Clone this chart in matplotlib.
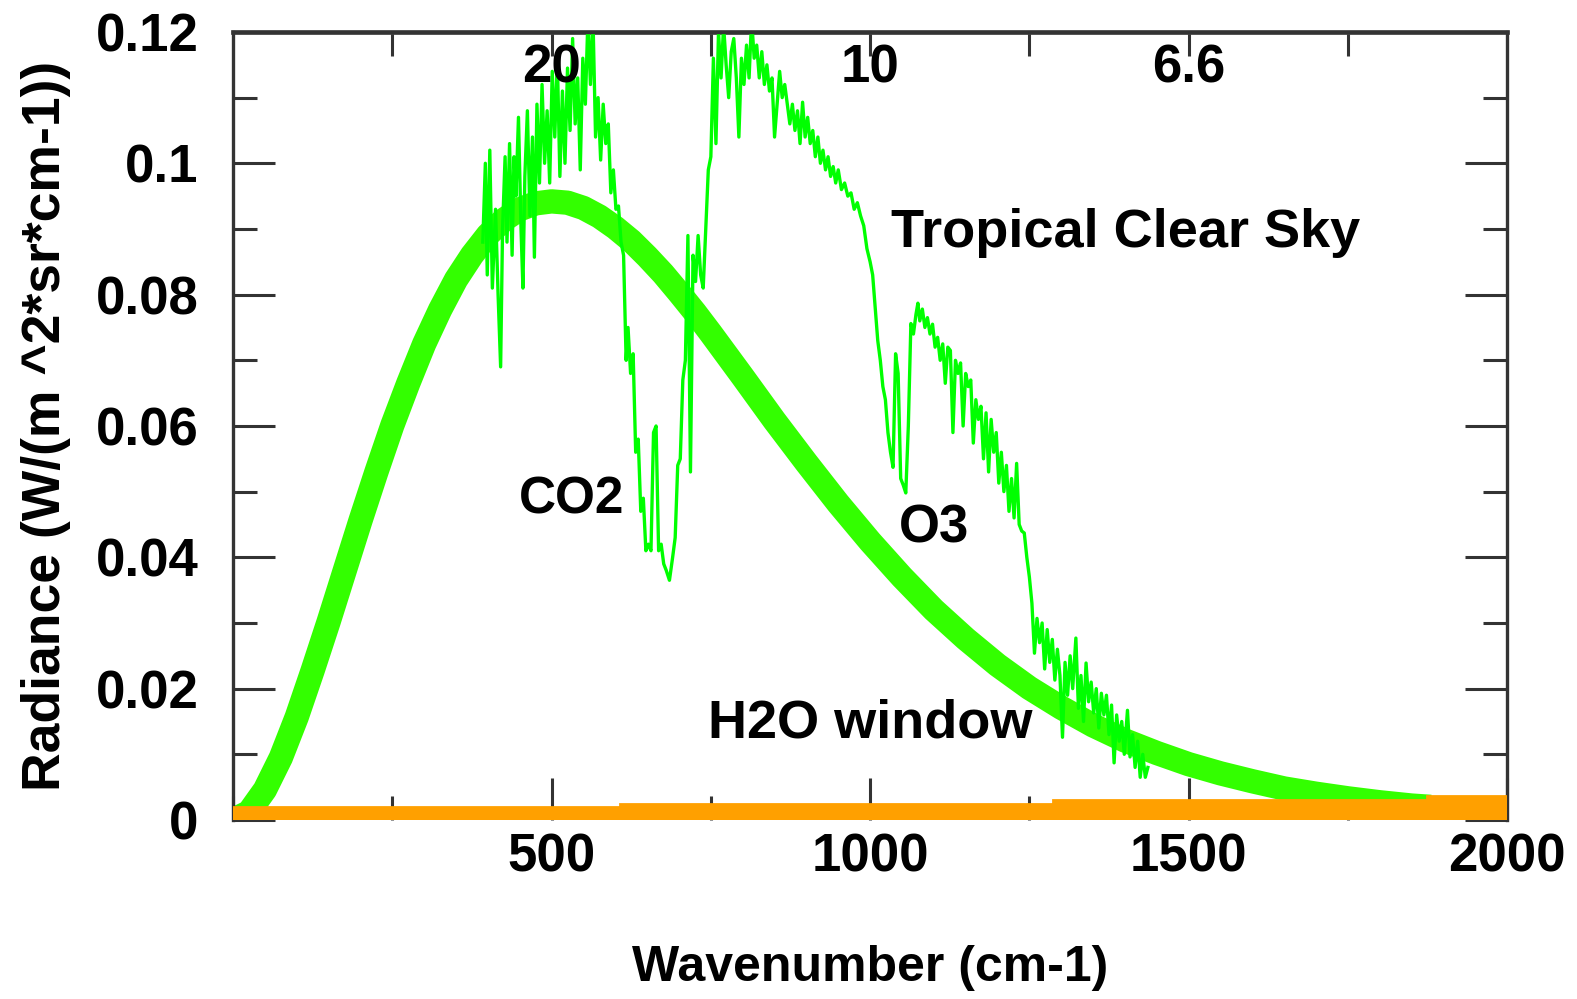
#!/usr/bin/env python3
"""Tropical clear sky radiance spectrum vs. blackbody curve."""

from __future__ import annotations

import matplotlib

matplotlib.use("Agg")
import matplotlib.pyplot as plt
from matplotlib.ticker import FixedFormatter, FixedLocator, MultipleLocator

# blackbody reference curve (thick line)
PLANCK_WN = [0, 25, 50, 75, 100, 125, 150, 175, 200, 225, 250, 275, 300, 325, 350, 375,
             400, 425, 450, 475, 500, 525, 550, 575, 600, 625, 650, 675, 700, 725, 750,
             775, 800, 850, 900, 950, 1000, 1050, 1100, 1150, 1200, 1250, 1300, 1350,
             1400, 1450, 1500, 1550, 1600, 1650, 1700, 1750, 1800, 1850, 1880]
PLANCK_RAD = [0.0, 0.0012, 0.0046, 0.0095, 0.0157, 0.0228, 0.0302, 0.0379, 0.0456, 0.0530,
              0.0601, 0.0665, 0.0725, 0.0777, 0.0823, 0.0860, 0.0891, 0.0914, 0.0930, 0.0939,
              0.0942, 0.0940, 0.0932, 0.0919, 0.0902, 0.0882, 0.0858, 0.0832, 0.0803, 0.0773,
              0.0741, 0.0708, 0.0675, 0.0608, 0.0544, 0.0482, 0.0424, 0.0370, 0.0320, 0.0276,
              0.0236, 0.0201, 0.0171, 0.0144, 0.0121, 0.0102, 0.0085, 0.0071, 0.0059, 0.0048,
              0.0040, 0.0033, 0.0027, 0.0022, 0.0020]

# tropical clear sky spectrum (thin line)
SPEC_WN = [392, 396, 399, 403, 407, 412, 416, 420, 423, 427, 430, 434, 438, 441, 444, 448,
           452, 455, 458, 462, 466, 470, 473, 477, 481, 485, 489, 493, 497, 501, 505, 509,
           513, 517, 521, 525, 529, 533, 537, 541, 545, 549, 553, 557, 561, 565, 569, 573,
           577, 581, 585, 589, 593, 597, 601, 605, 609, 613, 617, 620, 624, 628, 632, 636,
           640, 644, 648, 652, 656, 660, 664, 668, 672, 676, 680, 685, 690, 694, 698, 702,
           706, 710, 714, 718, 722, 726, 730, 734, 738, 742, 746, 750, 754, 758, 762, 766,
           770, 774, 778, 782, 786, 790, 794, 798, 802, 806, 810, 814, 818, 822, 826, 830,
           834, 838, 842, 846, 850, 854, 858, 862, 866, 870, 874, 878, 882, 886, 890, 894,
           898, 902, 906, 910, 914, 918, 922, 926, 930, 934, 938, 942, 946, 950, 955, 960,
           965, 970, 975, 980, 985, 990, 995, 1000, 1004, 1008, 1012, 1016, 1020, 1024, 1028,
           1032, 1036, 1040, 1044, 1048, 1052, 1056, 1060, 1064, 1068, 1072, 1075, 1078, 1082,
           1086, 1090, 1094, 1098, 1102, 1106, 1110, 1114, 1118, 1122, 1126, 1130, 1134, 1138,
           1142, 1146, 1150, 1154, 1158, 1162, 1166, 1170, 1174, 1178, 1182, 1186, 1190, 1194,
           1198, 1202, 1206, 1210, 1214, 1218, 1222, 1226, 1230, 1234, 1238, 1242, 1246, 1250,
           1254, 1258, 1262, 1266, 1270, 1274, 1278, 1282, 1286, 1290, 1294, 1298, 1302, 1306,
           1310, 1314, 1318, 1323, 1327, 1331, 1335, 1339, 1343, 1347, 1351, 1355, 1359, 1363,
           1367, 1371, 1375, 1379, 1383, 1387, 1391, 1395, 1399, 1404, 1408, 1412, 1416, 1420,
           1424, 1428, 1432, 1436]
SPEC_RAD = [0.088, 0.100, 0.083, 0.102, 0.081, 0.093, 0.080, 0.069, 0.090, 0.101, 0.088, 0.103,
            0.086, 0.101, 0.095, 0.107, 0.090, 0.081, 0.098, 0.108, 0.092, 0.104, 0.0857, 0.109,
            0.097, 0.112, 0.100, 0.108, 0.097, 0.114, 0.104, 0.116, 0.098, 0.111, 0.100, 0.1145,
            0.105, 0.119, 0.106, 0.113, 0.099, 0.116, 0.109, 0.122, 0.112, 0.122, 0.104, 0.110,
            0.1005, 0.109, 0.103, 0.106, 0.0955, 0.099, 0.093, 0.0935, 0.088, 0.086, 0.070, 0.075,
            0.068, 0.071, 0.056, 0.058, 0.047, 0.049, 0.041, 0.042, 0.041, 0.059, 0.060, 0.041,
            0.042, 0.039, 0.038, 0.0365, 0.040, 0.043, 0.054, 0.055, 0.067, 0.070, 0.089, 0.053,
            0.086, 0.082, 0.089, 0.083, 0.081, 0.090, 0.099, 0.101, 0.116, 0.103, 0.120, 0.113,
            0.121, 0.115, 0.110, 0.117, 0.119, 0.113, 0.104, 0.116, 0.112, 0.118, 0.113, 0.122,
            0.116, 0.118, 0.113, 0.117, 0.112, 0.115, 0.111, 0.113, 0.104, 0.109, 0.114, 0.110,
            0.112, 0.109, 0.106, 0.109, 0.105, 0.108, 0.103, 0.1093, 0.104, 0.107, 0.103, 0.105,
            0.101, 0.104, 0.100, 0.102, 0.099, 0.101, 0.098, 0.0995, 0.097, 0.099, 0.096, 0.097,
            0.095, 0.0955, 0.093, 0.094, 0.092, 0.0905, 0.087, 0.085, 0.083, 0.078, 0.073, 0.070,
            0.066, 0.064, 0.059, 0.056, 0.0537, 0.071, 0.068, 0.052, 0.051, 0.0498, 0.060, 0.0756,
            0.074, 0.077, 0.0787, 0.076, 0.0778, 0.075, 0.0765, 0.074, 0.0755, 0.072, 0.0735,
            0.070, 0.0725, 0.0665, 0.072, 0.0715, 0.059, 0.070, 0.068, 0.0696, 0.060, 0.068,
            0.066, 0.067, 0.0574, 0.064, 0.061, 0.063, 0.055, 0.062, 0.053, 0.061, 0.056, 0.059,
            0.0513, 0.056, 0.050, 0.054, 0.047, 0.052, 0.046, 0.0543, 0.045, 0.044, 0.0437, 0.040,
            0.037, 0.033, 0.0254, 0.0307, 0.027, 0.030, 0.023, 0.029, 0.024, 0.0275, 0.0213,
            0.026, 0.022, 0.0126, 0.024, 0.019, 0.025, 0.020, 0.0277, 0.017, 0.022, 0.015, 0.0239,
            0.018, 0.021, 0.0163, 0.020, 0.014, 0.0193, 0.016, 0.019, 0.013, 0.0175, 0.0087,
            0.016, 0.012, 0.015, 0.010, 0.0167, 0.0096, 0.013, 0.008, 0.012, 0.0065, 0.010,
            0.0065, 0.008]

# near-zero band along the bottom (orange)
BASE_WN = [0, 628, 1307, 1895, 2000]
BASE_RAD = [0.0, 0.0005, 0.0010, 0.0016, 0.0016]

Y_TICKS = [0, 0.02, 0.04, 0.06, 0.08, 0.10, 0.12]
Y_TICK_LABELS = ["0", "0.02", "0.04", "0.06", "0.08", "0.1", "0.12"]
X_TICKS = [500, 1000, 1500, 2000]
X_TICK_LABELS = ["500", "1000", "1500", "2000"]
TOP_TICKS = [250, 500, 750, 1000, 1250, 1500, 1750]
TOP_LABEL_POS = [500, 1000, 1500]
TOP_LABELS = ["20", "10", "6.6"]

# (text, wavenumber, radiance, fontsize)
ANNOTATIONS = [
    ("CO2", 531, 0.0467, 37),
    ("O3", 1100, 0.0422, 38),
    ("H2O window", 1001, 0.0126, 39),
    ("Tropical Clear Sky", 1401, 0.0872, 39),
]

FONT = ["Liberation Sans", "DejaVu Sans"]
AXIS_COLOR = "#333333"


def main() -> None:
    plt.rcParams["font.family"] = FONT
    plt.rcParams["font.weight"] = "bold"
    plt.rcParams["axes.labelweight"] = "bold"
    fig = plt.figure(figsize=(15.77, 9.99), dpi=100)
    ax = fig.add_axes([0.1478, 0.1792, 0.8079, 0.7888])

    ax.plot(PLANCK_WN, PLANCK_RAD, color="#33ff00", linewidth=17.5, solid_capstyle="butt",
            solid_joinstyle="round", zorder=2)
    ax.plot(SPEC_WN, SPEC_RAD, color="#00ff00", linewidth=2.4, zorder=2.2)
    ax.plot(BASE_WN, BASE_RAD, color="#ffa000", linewidth=20, drawstyle="steps-post",
            solid_capstyle="butt", solid_joinstyle="miter", zorder=3)

    ax.set_xlim(0, 2000)
    ax.set_ylim(0, 0.12)

    ax.xaxis.set_major_locator(FixedLocator(X_TICKS))
    ax.xaxis.set_major_formatter(FixedFormatter(X_TICK_LABELS))
    ax.xaxis.set_minor_locator(MultipleLocator(250))
    ax.yaxis.set_major_locator(FixedLocator(Y_TICKS))
    ax.yaxis.set_major_formatter(FixedFormatter(Y_TICK_LABELS))
    ax.yaxis.set_minor_locator(MultipleLocator(0.01))

    ax.tick_params(which="both", direction="in", color=AXIS_COLOR, width=2.2,
                   top=False, right=True, labelsize=38)
    ax.tick_params(which="major", length=30)
    ax.tick_params(which="minor", length=17)
    ax.tick_params(axis="y", which="major", pad=25)
    ax.tick_params(axis="x", which="major", pad=9)

    for side in ("left", "right", "top", "bottom"):
        ax.spines[side].set_color(AXIS_COLOR)
        ax.spines[side].set_linewidth(2.4)
    ax.spines["bottom"].set_visible(False)

    top = ax.secondary_xaxis("top")
    top.set_xticks(TOP_TICKS)
    top.tick_params(direction="in", length=17, width=2.2, color=AXIS_COLOR,
                    labeltop=False)
    top.spines["top"].set_color("#444444")
    top.spines["top"].set_linewidth(3.4)

    for pos, label in zip(TOP_LABEL_POS, TOP_LABELS):
        ax.text(pos, 0.9365, label, transform=ax.get_xaxis_transform(), ha="center",
                va="baseline", fontsize=38, zorder=4)

    for label, x, y, size in ANNOTATIONS:
        ax.text(x, y, label, ha="center", va="baseline", fontsize=size, zorder=4)

    ax.set_xlabel("Wavenumber (cm-1)", fontsize=36, fontweight="bold")
    ax.set_ylabel("Radiance (W/(m ^2*sr*cm-1))", fontsize=38.5, fontweight="bold")
    ax.xaxis.set_label_coords(0.5, -0.1586)
    ax.yaxis.set_label_coords(-0.127, 0.5)

    fig.savefig("out.png", dpi=100)
    plt.close(fig)


if __name__ == "__main__":
    main()
